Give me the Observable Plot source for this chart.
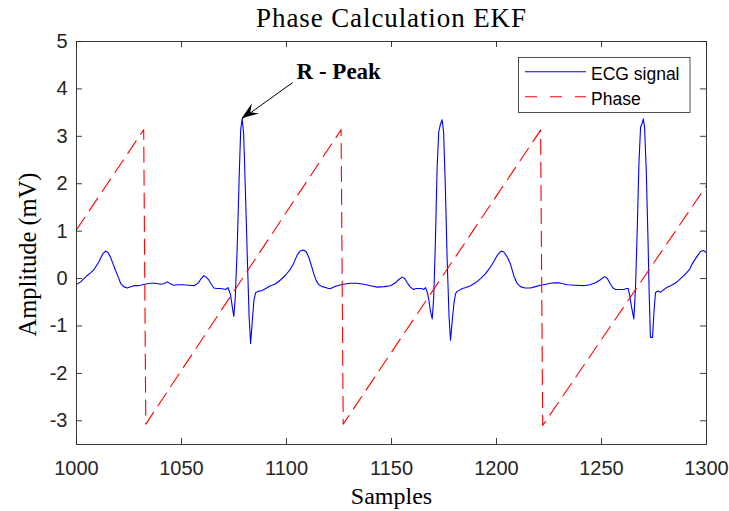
<!DOCTYPE html>
<html><head><meta charset="utf-8">
<script src="https://cdn.jsdelivr.net/npm/d3@7"></script>
<script src="https://cdn.jsdelivr.net/npm/@observablehq/plot@0.6"></script>
<style>html,body{margin:0;padding:0;background:#fff} svg{display:block}</style>
</head><body><div id="chart"></div>
<script>
// ---- data ----
const ecgSamples = [
1000,1002,1003.5,1005,1006.7,1008.5,1010.6,1012.5,1013.8,1015,1016.2,1017.5,1018.6,1020,1021,1022.5,1024.1,1025.5,1027.3,1029,1030.5,1032.5,1035.2,1037.5,1040,1041.5,1043.2,1044.7,1046.3,1048.5,1051.1,1053.5,1055.9,1057.2,1058.2,1059.4,1060.6,1061.8,1063,1064.2,1065.4,1067,1068.6,1070,1071,1072.1,1073.3,1074.2,1074.9,1075.6,1076.5,1077.5,1078.2,1078.9,1079.6,1080.4,1081.3,1082.2,1082.9,1083.7,1084.5,1085.3,1086.5,1088.4,1090.5,1092.4,1094.5,1097.1,
1099.5,1101.9,1103.5,1105.1,1106.5,1108,1109.3,1110.6,1112,1113,1114.2,1115.4,1117,1118.6,1120,1121,1122.5,1124.1,1127,1130.5,1133.5,1136.8,1140,1143.2,1146.5,1149.5,1151.9,1153.5,1155.1,1156.3,1157.5,1159,1160.6,1161.8,1163,1164.2,1165.4,1166.2,1167.1,1167.8,1168.6,1169.4,1170.1,1170.8,1171.7,1172.5,1173.3,1174.1,1174.8,1175.6,1176.5,1177.4,1178.1,1178.9,1179.7,1180.5,1181.3,1183.7,1185.5,1187.6,1190,1192.4,
1194.7,1197.1,1199,1200.5,1202.2,1203.5,1205.2,1206.7,1208.3,1209.8,1211.4,1213.5,1216.2,1218.5,1221,1223.5,1225.7,1227.5,1229.7,1231.5,1233.7,1237.5,1241.6,1244.5,1247.1,1249.3,1251.4,1252.8,1254.3,1255.5,1256.7,1258.5,1260.6,1262,1262.7,1263.4,1264.1,1265.4,1266.2,1267,1267.8,1268.6,1269.4,1269.9,1270.5,1271.3,1272.1,1272.7,1273.3,1274.3,1275,1275.7,1276.5,1277.3,1278.1,1279.5,1281,1282.9,1285,1286.5,1288.4,1290.5,1292,1293.2,1294.5,1296,1297.1,1298.5,1300];
const ecgValues = [
-0.12,-0.07,0.0,0.06,0.12,0.2,0.35,0.52,0.58,0.55,0.45,0.3,0.17,0.02,-0.1,-0.17,-0.2,-0.18,-0.15,-0.15,-0.14,-0.12,-0.1,-0.1,-0.12,-0.11,-0.07,-0.11,-0.14,-0.13,-0.13,-0.14,-0.15,-0.12,-0.08,0.0,0.06,0.03,-0.03,-0.12,-0.2,-0.21,-0.21,-0.22,-0.23,-0.19,-0.33,-0.6,-0.8,-0.4,0.6,2.2,3.15,3.37,3.05,1.9,0.5,-0.8,-1.37,-0.9,-0.45,-0.3,-0.27,-0.25,-0.2,-0.15,-0.12,-0.03,
0.07,0.2,0.33,0.5,0.58,0.6,0.57,0.45,0.25,0.1,-0.05,-0.13,-0.17,-0.19,-0.21,-0.21,-0.18,-0.15,-0.12,-0.1,-0.1,-0.12,-0.15,-0.18,-0.17,-0.15,-0.09,-0.02,0.03,0.0,-0.09,-0.18,-0.23,-0.21,-0.21,-0.21,-0.23,-0.19,-0.3,-0.45,-0.7,-0.85,-0.4,0.6,2.3,3.1,3.25,3.35,3.1,2.0,0.4,-0.8,-1.3,-0.9,-0.53,-0.32,-0.27,-0.21,-0.19,-0.15,-0.09,0.0,
0.1,0.24,0.38,0.5,0.58,0.56,0.45,0.3,0.05,-0.1,-0.17,-0.2,-0.2,-0.17,-0.14,-0.12,-0.1,-0.09,-0.09,-0.11,-0.13,-0.14,-0.15,-0.13,-0.09,-0.03,0.04,0.0,-0.12,-0.2,-0.23,-0.23,-0.23,-0.21,-0.21,-0.35,-0.55,-0.85,-0.2,1.0,2.4,3.19,3.28,3.37,3.2,2.3,0.9,-0.3,-1.24,-1.24,-0.7,-0.3,-0.27,-0.27,-0.29,-0.24,-0.19,-0.15,-0.1,-0.05,0.03,0.12,0.2,0.31,0.4,0.5,0.57,0.59,0.55];
const phaseSamples = [1000, 1032, 1033, 1126, 1127, 1221, 1222, 1300];
const phaseValues  = [1.03, 3.14, -3.07, 3.14, -3.07, 3.13, -3.1, 1.96];
const xTicks = [1000, 1050, 1100, 1150, 1200, 1250, 1300];
const yTicks = [-3, -2, -1, 0, 1, 2, 3, 4, 5];
const seriesNames = ["ECG signal", "Phase"];
const titleText = "Phase Calculation EKF";
const xLabel = "Samples";
const yLabel = "Amplitude (mV)";
const peakLabel = "R - Peak";
const peakTip = [1078.9, 3.37];
const peakTail = [1102.8, 4.13];
const peakTextPos = [1104.8, 4.2];

// ---- tables built from the arrays ----
const ecg = ecgSamples.map((x, i) => ({x, y: ecgValues[i]}));
const phase = phaseSamples.map((x, i) => ({x, y: phaseValues[i]}));

const W = 729, H = 511, mL = 76, mR = 23, mT = 41, mB = 67;
const pw = W - mL - mR, ph = H - mT - mB;
const axisColor = "#262626";
const serif = "'Liberation Serif', 'Times New Roman', serif";
const sans = "'Liberation Sans', Arial, Helvetica, sans-serif";
const fmt = d => String(d);

const chart = Plot.plot({
  width: W, height: H,
  marginLeft: mL, marginRight: mR, marginTop: mT, marginBottom: mB,
  style: {background: "#fff", color: axisColor, fontFamily: sans},
  x: {domain: [1000, 1300]},
  y: {domain: [-3.5, 5]},
  marks: [
    Plot.line(ecg, {x: "x", y: "y", stroke: "#0000ff", strokeWidth: 1.1}),
    Plot.line(phase, {x: "x", y: "y", stroke: "#ff0000", strokeWidth: 1.1, strokeDasharray: "15,8"}),
    Plot.ruleX(xTicks, {stroke: axisColor, strokeWidth: 0.9, insetTop: ph - 6}),
    Plot.ruleX(xTicks, {stroke: axisColor, strokeWidth: 0.9, insetBottom: ph - 6}),
    Plot.ruleY(yTicks, {stroke: axisColor, strokeWidth: 0.9, insetRight: pw - 6}),
    Plot.ruleY(yTicks, {stroke: axisColor, strokeWidth: 0.9, insetLeft: pw - 6}),
    Plot.frame({stroke: axisColor, strokeWidth: 0.9}),
    Plot.axisX({ticks: xTicks, tickSize: 0, tickPadding: 16, fontSize: 20, tickFormat: fmt, label: null}),
    Plot.axisY({ticks: yTicks, tickSize: 0, tickPadding: 9, fontSize: 20, tickFormat: fmt, label: null}),
    Plot.text([titleText], {text: d => d, frameAnchor: "top", textAnchor: "middle", lineAnchor: "bottom", dy: -15, fontSize: 27, fontFamily: serif, fill: "#000"}),
    Plot.text([xLabel], {text: d => d, frameAnchor: "bottom", textAnchor: "middle", lineAnchor: "bottom", dy: 59, fontSize: 24, fontFamily: serif, fill: "#000"}),
    Plot.text([yLabel], {text: d => d, frameAnchor: "left", textAnchor: "middle", rotate: -90, lineAnchor: "bottom", dx: -40.5, dy: 11.5, fontSize: 24.5, fontFamily: serif, fill: "#000"}),
    Plot.text([{x: peakTextPos[0], y: peakTextPos[1], t: peakLabel}], {x: "x", y: "y", text: "t", textAnchor: "start", lineAnchor: "bottom", fontSize: 23, fontWeight: "bold", fontFamily: serif, fill: "#000"}),
    Plot.arrow([{x1: peakTail[0], y1: peakTail[1], x2: peakTip[0], y2: peakTip[1]}], {x1: "x1", y1: "y1", x2: "x2", y2: "y2", stroke: "#000", strokeWidth: 1, headLength: 0})
  ]
});

const svg = d3.select(chart);
// slightly wider letter spacing for the title, as in the reference
svg.selectAll("text").filter(function () { return this.textContent === titleText; })
  .style("letter-spacing", "0.9px");

// filled arrowhead and legend, placed with the plot's own scales
const sx = chart.scale("x"), sy = chart.scale("y");
const T = [sx.apply(peakTip[0]), sy.apply(peakTip[1])];
const B = [sx.apply(peakTail[0]), sy.apply(peakTail[1])];
const len = Math.hypot(B[0] - T[0], B[1] - T[1]);
const u = [(B[0] - T[0]) / len, (B[1] - T[1]) / len];
const n = [-u[1], u[0]];
const L = 17, Wd = 12.5;
const p1 = [T[0] + u[0] * L + n[0] * Wd / 2, T[1] + u[1] * L + n[1] * Wd / 2];
const p2 = [T[0] + u[0] * L * 0.62, T[1] + u[1] * L * 0.62];
const p3 = [T[0] + u[0] * L - n[0] * Wd / 2, T[1] + u[1] * L - n[1] * Wd / 2];
svg.append("path").attr("d", `M${T}L${p1}L${p2}L${p3}Z`).attr("fill", "#000");

const lg = svg.append("g").attr("text-anchor", "start");
lg.append("rect").attr("x", 518.5).attr("y", 57.5).attr("width", 171.5).attr("height", 55)
  .attr("fill", "#fff").attr("stroke", axisColor).attr("stroke-width", 0.8);
const legendStyles = [{stroke: "#0000ff", dash: null}, {stroke: "#ff0000", dash: "12,13"}];
seriesNames.forEach((name, i) => {
  const yy = 71.7 + i * 25;
  const ln = lg.append("line").attr("x1", 525).attr("x2", 586).attr("y1", yy).attr("y2", yy)
    .attr("stroke", legendStyles[i].stroke).attr("stroke-width", 1.1);
  if (legendStyles[i].dash) ln.attr("stroke-dasharray", legendStyles[i].dash);
  lg.append("text").attr("x", 591).attr("y", 80 + i * 24.5).attr("text-anchor", "start")
    .attr("font-family", sans).attr("font-size", 17.5).attr("fill", "#000").text(name);
});

document.getElementById("chart").appendChild(chart);
</script>
</body></html>
